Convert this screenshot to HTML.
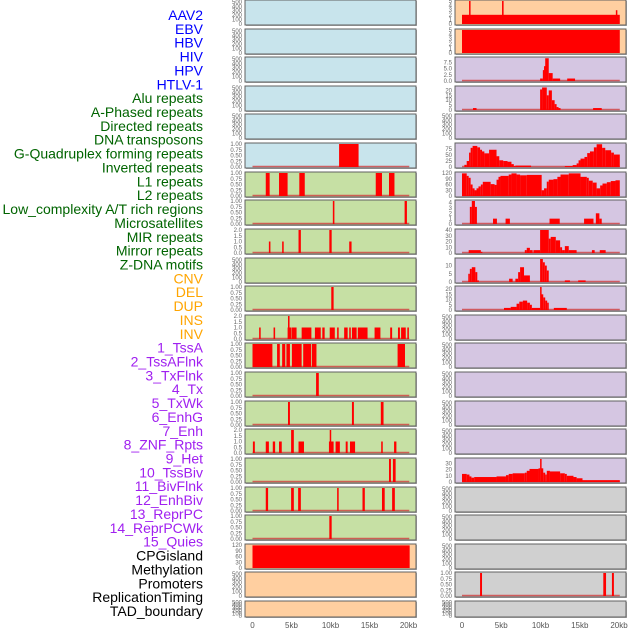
<!DOCTYPE html>
<html><head><meta charset="utf-8"><style>
body{margin:0;background:#fff;}
svg{display:block;font-family:"Liberation Sans",sans-serif;}
</style></head><body>
<svg id="chart" width="630" height="630" viewBox="0 0 630 630" xmlns="http://www.w3.org/2000/svg"></svg>
<script>
const labels=["AAV2","EBV","HBV","HIV","HPV","HTLV-1","Alu repeats","A-Phased repeats","Directed repeats","DNA transposons","G-Quadruplex forming repeats","Inverted repeats","L1 repeats","L2 repeats","Low_complexity A/T rich regions","Microsatellites","MIR repeats","Mirror repeats","Z-DNA motifs","CNV","DEL","DUP","INS","INV","1_TssA","2_TssAFlnk","3_TxFlnk","4_Tx","5_TxWk","6_EnhG","7_Enh","8_ZNF_Rpts","9_Het","10_TssBiv","11_BivFlnk","12_EnhBiv","13_ReprPC","14_ReprPCWk","15_Quies","CPGisland","Methylation","Promoters","ReplicationTiming","TAD_boundary"];
const labelGroupSizes=[6,13,5,15,5];
const labelColors=["#0000ff","#006400","#ffa500","#a020f0","#000000"];
const xTickValues=[0,5,10,15,20];
const xTickLabels=["0","5kb","10kb","15kb","20kb"];
// left binary intervals [startKb,endKb]
const leftG4=[[11.1,13.6]];
const leftL1=[[1.7,2.2],[3.4,4.5],[6.0,6.7],[15.8,16.6],[17.5,18.2]];
const leftLowComp=[[10.3,10.5],[19.5,19.8]];
const leftMicro=[[2.1,2.3,1],[3.8,4.0,1],[5.9,6.2,2],[9.85,10.15,2],[12.4,12.7,1]];
const leftDel=[[10.1,10.4]];
const leftIns=[[0.85,1.05,1],[2.7,2.9,1],[4.5,5.0,1],[4.55,4.75,2],[5.05,5.65,1],[6.3,7.55,1],[8.0,8.75,1],[8.95,9.25,1],[9.9,10.55,1],[10.85,11.05,1],[11.75,12.2,1],[12.4,12.6,1],[12.75,13.35,1],[13.5,14.75,1],[15.65,16.4,1],[17.65,17.9,1],[18.65,18.9,1],[19.05,19.65,1],[19.85,20.05,1]];
const leftTssA=[[0,2.55],[3.15,3.5],[3.8,4.2],[4.35,4.8],[5.05,6.3],[6.5,7.5],[7.6,8.2],[18.6,19.55]];
const leftTxFlnk=[[8.15,8.5]];
const leftTxWk=[[4.55,4.8],[12.75,13.0],[16.45,16.8]];
const leftZnf=[[0.05,0.3,1],[1.7,2.1,1],[2.6,2.9,1],[3.4,3.75,1],[4.95,5.3,2],[5.9,6.6,1],[9.8,10.4,1],[9.9,10.0,2],[10.65,11.2,1],[11.95,12.2,1],[12.5,13.15,1],[16.5,16.7,1],[18.15,18.45,1]];
const leftTssBiv=[[17.5,17.75],[18.0,18.35]];
const leftEnhBiv=[[1.7,2.0],[4.95,5.3],[5.85,6.2],[10.85,11.05],[14.1,14.4],[16.6,16.95],[17.9,18.25]];
const leftReprPCWk=[[9.85,10.15]];
const leftCpg=[[0,20.15,118]];
// right histograms [startKb,endKb,value]
const rightAav2=[[0,20.1,2],[0.9,1.05,5],[5.1,5.3,5],[19.6,19.75,3]];
const rightEbv=[[0,20.1,5]];
const rightHiv=[[9.95,10.3,1],[10.3,10.45,4.4],[10.45,10.6,6],[10.6,11.05,9.2],[11.05,11.55,3.2],[11.55,12.5,1],[13.4,14.4,1]];
const rightHpv=[[1.4,1.85,2],[9.95,10.2,21],[10.2,10.8,23],[10.8,11.05,15],[11.05,11.45,20],[11.45,11.8,10],[11.8,12.05,6],[12.05,12.3,3],[12.3,12.55,2],[16.7,17.8,2]];
const rightG4=[[0.3,0.6,9],[0.6,0.9,25],[0.9,1.1,60],[1.1,1.35,80],[1.35,1.95,88],[1.95,2.3,82],[2.3,2.55,72],[2.55,2.85,65],[2.85,3.45,57],[3.45,4.4,72],[4.4,4.75,45],[4.75,5.25,28],[5.25,5.8,25],[5.8,6.3,22],[6.3,6.6,12],[6.6,6.8,4],[6.8,8.8,6],[13.1,14.1,4],[14.1,14.6,8],[14.6,14.85,15],[14.85,15.1,28],[15.1,15.6,35],[15.6,15.95,42],[15.95,16.3,58],[16.3,16.8,65],[16.8,17.15,82],[17.15,17.85,95],[17.85,18.25,80],[18.25,19.0,70],[19.0,19.35,60],[19.35,20.1,52]];
const rightL1=[[0,0.6,118],[0.6,0.85,105],[0.85,1.1,95],[1.1,1.35,60],[1.35,1.6,40],[1.6,1.85,30],[1.85,2.1,40],[2.1,2.4,50],[2.4,2.65,60],[2.65,3.65,74],[3.65,4.15,62],[4.15,4.4,58],[4.4,4.65,85],[4.65,4.9,100],[4.9,5.95,105],[5.95,6.3,112],[6.3,6.95,118],[6.95,7.4,112],[7.4,8.25,108],[8.25,10.15,110],[10.15,10.45,30],[10.45,10.8,40],[10.8,11.05,75],[11.05,11.65,85],[11.65,12.15,88],[12.15,12.55,100],[12.55,13.6,112],[13.6,15.1,118],[15.1,15.9,100],[15.9,16.15,95],[16.15,16.65,80],[16.65,17.15,70],[17.15,17.6,40],[17.6,17.9,55],[17.9,18.45,65],[18.45,18.95,72],[18.95,19.55,78],[19.55,20.1,82]];
const rightLowComp=[[1.0,1.25,3.2],[1.25,1.65,4.3],[1.65,1.9,3.2],[3.95,4.45,1],[5.55,6.1,1],[11.15,12.45,1],[15.55,16.75,1],[17.05,17.5,2],[17.5,17.8,1]];
const rightMir=[[0.85,2.4,5],[2.4,2.55,2],[8.0,8.25,5],[8.25,8.65,9],[8.65,9.0,5],[9.1,9.95,5],[9.95,11.05,40],[11.05,11.3,25],[11.3,11.95,28],[11.95,12.5,22],[12.5,12.75,10],[12.75,13.1,5],[13.1,13.6,12],[13.6,14.6,5],[16.55,16.9,5],[17.55,18.3,5]];
const rightZdna=[[0.8,1.0,5],[1.0,1.25,8],[1.25,1.7,9],[1.7,1.95,6],[1.95,2.05,1],[6.0,6.45,2],[6.8,7.15,2],[7.15,7.4,6],[7.4,7.9,9],[7.9,8.65,4],[9.95,10.3,14],[10.3,10.55,12],[10.55,10.8,10],[10.8,11.05,7],[13.1,13.75,1],[14.8,15.75,1]];
const rightDel=[[5.35,6.2,2],[6.2,6.95,3],[6.95,7.3,6],[7.3,7.75,8],[7.75,8.3,9],[8.3,8.65,7],[8.65,8.9,5],[8.9,9.95,2],[9.95,10.1,22],[10.1,10.35,15],[10.35,10.6,12],[10.6,10.85,9],[10.85,11.05,7],[11.7,13.35,2]];
const rightHet=[[0,0.6,13],[0.6,0.95,12],[0.95,1.2,9],[1.2,1.55,7],[1.55,4.4,8],[4.4,5.6,9],[5.6,5.95,11],[5.95,6.45,13],[6.45,8.0,14],[8.0,8.25,15],[8.25,8.6,18],[8.6,9.75,21],[9.75,9.95,22],[9.95,10.1,37],[10.1,10.35,22],[10.35,10.6,15],[10.6,10.8,12],[10.8,11.2,18],[11.2,12.5,17],[12.5,13.1,14],[13.1,13.35,13],[13.35,14.2,10],[14.2,14.6,8],[14.6,15.35,6],[15.35,20.1,3]];
const rightPromoters=[[2.3,2.55],[18.0,18.35],[19.1,19.35]];

const EMPTY={ticks:[0,100,200,300,400,500],tl:["0","100","200","300","400","500"],ymax:520};
const BIN={ticks:[0,0.25,0.5,0.75,1],tl:["0.00","0.25","0.50","0.75","1.00"],ymax:1};
const TWO={ticks:[0,0.5,1,1.5,2],tl:["0.0","0.5","1.0","1.5","2.0"],ymax:2};
const BG={blue:"#c8e4ec",green:"#c6e0a4",orange:"#ffcfa0",purple:"#d5c6e2",gray:"#d0d0d0"};
// panel rows: [bg, axis, data, isBinaryIntervals, baseline]
const leftRows=[
["blue",EMPTY,null],["blue",EMPTY,null],["blue",EMPTY,null],["blue",EMPTY,null],["blue",EMPTY,null],
["blue",BIN,leftG4,1,1],["green",BIN,leftL1,1,1],["green",BIN,leftLowComp,1,1],["green",TWO,leftMicro,0,1],["green",EMPTY,null],
["green",BIN,leftDel,1,1],["green",TWO,leftIns,0,1],["green",BIN,leftTssA,1,1],["green",BIN,leftTxFlnk,1,1],["green",BIN,leftTxWk,1,1],
["green",TWO,leftZnf,0,1],["green",BIN,leftTssBiv,1,1],["green",BIN,leftEnhBiv,1,1],["green",BIN,leftReprPCWk,1,1],
["orange",{ticks:[0,30,60,90,120],tl:["0","30","60","90","120"],ymax:120},leftCpg,0,0],["orange",EMPTY,null],["orange",EMPTY,null]];
const rightRows=[
["orange",{ticks:[0,1,2,3,4,5],tl:["0","1","2","3","4","5"],ymax:5},rightAav2,0,0],
["orange",{ticks:[0,1,2,3,4,5],tl:["0","1","2","3","4","5"],ymax:5},rightEbv,0,0],
["purple",{ticks:[0,2.5,5,7.5],tl:["0.0","2.5","5.0","7.5"],ymax:9.3},rightHiv,0,1],
["purple",{ticks:[0,5,10,15,20],tl:["0","5","10","15","20"],ymax:23.5},rightHpv,0,1],
["purple",EMPTY,null],
["purple",{ticks:[0,25,50,75],tl:["0","25","50","75"],ymax:96},rightG4,0,1],
["purple",{ticks:[0,30,60,90,120],tl:["0","30","60","90","120"],ymax:120},rightL1,0,1],
["purple",{ticks:[0,1,2,3,4],tl:["0","1","2","3","4"],ymax:4.3},rightLowComp,0,1],
["purple",{ticks:[0,10,20,30,40],tl:["0","10","20","30","40"],ymax:40},rightMir,0,1],
["purple",{ticks:[0,5,10],tl:["0","5","10"],ymax:14},rightZdna,0,1],
["purple",{ticks:[0,5,10,15,20],tl:["0","5","10","15","20"],ymax:22},rightDel,0,1],
["purple",EMPTY,null],["purple",EMPTY,null],["purple",EMPTY,null],["purple",EMPTY,null],["purple",EMPTY,null],
["purple",{ticks:[0,10,20,30],tl:["0","10","20","30"],ymax:37},rightHet,0,1],
["gray",EMPTY,null],["gray",EMPTY,null],["gray",EMPTY,null],
["gray",BIN,rightPromoters,1,1],["gray",EMPTY,null]];

const svg=document.getElementById('chart');
const NS="http://www.w3.org/2000/svg";
function mk(tag,attrs,parent){const e=document.createElementNS(NS,tag);for(const k in attrs)e.setAttribute(k,attrs[k]);(parent||svg).appendChild(e);return e;}
function rowTop(i){return Math.round(i*28.62);}
function rowH(i){return i===21?16:25;}
const xL=kb=>252.5+kb*7.8, xR=kb=>462+kb*7.85;

// labels
let li=0;
labelGroupSizes.forEach((n,g)=>{for(let k=0;k<n;k++){
 const t=mk('text',{x:203,y:15+li*13.86+5,'text-anchor':'end','font-size':'14',fill:labelColors[g]});
 t.textContent=labels[li];
 
 
 li++;}});

function drawPanel(rows,x0,x1,xs,tickX,side){
 rows.forEach((r,i)=>{
  const top=rowTop(i),h=rowH(i),ax=r[1];
  const g=mk('g',{});
  
  
  mk('rect',{x:x0+1,y:top+1,width:x1-x0,height:h,fill:'#b0b0b0'},g);
  mk('rect',{x:x0,y:top,width:x1-x0,height:h,fill:BG[r[0]],stroke:'#606060','stroke-width':1},g);
  const yv=v=>top+h-1-v/ax.ymax*(h-2);
  ax.ticks.forEach((tv,k)=>{
   const t=mk('text',{x:tickX,y:yv(tv)+2,'text-anchor':'end','font-size':'6',fill:'#666'},g);
   t.textContent=ax.tl[k];
   
   
  });
  if(r[2]){
   if(r[4]){const l=mk('line',{x1:xs(0),x2:xs(20.1),y1:top+h-1.5,y2:top+h-1.5,stroke:'#d04040','stroke-width':1.5,opacity:0.8},g);
    
    }
   r[2].forEach(d=>{
    const v=r[3]?1:d[2];
    const xa=xs(d[0]),xb=Math.max(xs(d[1]),xa+1.5);
    const b=mk('rect',{x:xa,y:yv(v),width:xb-xa,height:yv(0)-yv(v),fill:'#ff0000'},g);
    
    
   });
  }
 });
 xTickValues.forEach((v,k)=>{
  const t=mk('text',{x:xs(v),y:628,'text-anchor':'middle','font-size':'8',fill:'#555'});
  t.textContent=xTickLabels[k];
  
  
 });
}
drawPanel(leftRows,245,416,xL,242,'left');
drawPanel(rightRows,455,626,xR,452,'right');
</script>
</body></html>
